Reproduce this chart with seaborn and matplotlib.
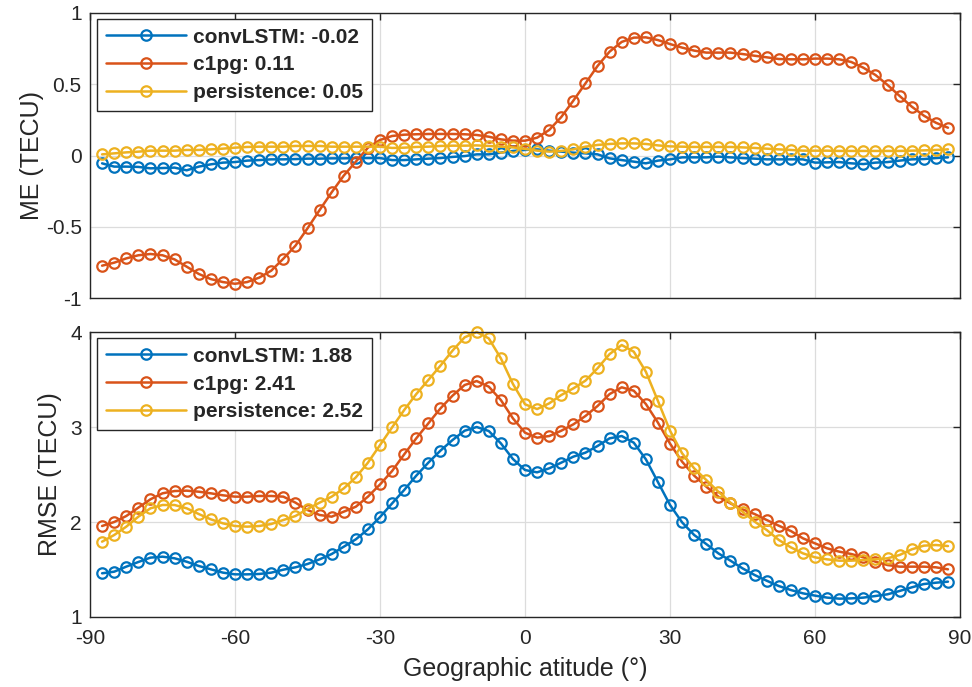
import numpy as np
import pandas as pd
import matplotlib
matplotlib.use("Agg")
import matplotlib.pyplot as plt
import seaborn as sns

# Latitude bins (deg), 2.5 deg spacing
latitude = np.arange(-87.5, 87.6, 2.5)

# Mean error (TECU) per latitude bin
me_convlstm = [-0.055, -0.078, -0.078, -0.080, -0.090, -0.088, -0.085, -0.104, -0.078, -0.062,
               -0.050, -0.046, -0.036, -0.032, -0.027, -0.027, -0.025, -0.022, -0.022, -0.020,
               -0.020, -0.018, -0.018, -0.018, -0.032, -0.032, -0.027, -0.022, -0.018, -0.010,
               -0.004, 0.008, 0.008, 0.020, 0.032, 0.039, 0.043, 0.034, 0.027, 0.020,
               0.015, 0.008, -0.020, -0.032, -0.043, -0.055, -0.036, -0.027, -0.013, -0.013,
               -0.013, -0.008, -0.013, -0.018, -0.022, -0.027, -0.027, -0.027, -0.027, -0.050,
               -0.048, -0.046, -0.055, -0.060, -0.050, -0.046, -0.036, -0.027, -0.025, -0.018,
               -0.013]
me_c1pg = [-0.773, -0.752, -0.722, -0.700, -0.691, -0.700, -0.729, -0.780, -0.831, -0.867,
           -0.888, -0.900, -0.888, -0.857, -0.808, -0.724, -0.633, -0.511, -0.383, -0.258,
           -0.141, -0.043, 0.055, 0.109, 0.137, 0.146, 0.149, 0.151, 0.151, 0.151,
           0.149, 0.144, 0.132, 0.113, 0.104, 0.104, 0.125, 0.179, 0.270, 0.385,
           0.506, 0.628, 0.729, 0.797, 0.827, 0.829, 0.810, 0.782, 0.757, 0.736,
           0.722, 0.722, 0.722, 0.712, 0.700, 0.689, 0.677, 0.675, 0.675, 0.680,
           0.680, 0.675, 0.656, 0.616, 0.565, 0.495, 0.418, 0.343, 0.280, 0.230,
           0.195]
me_persistence = [0.008, 0.015, 0.022, 0.027, 0.034, 0.034, 0.034, 0.039, 0.039, 0.043,
                  0.048, 0.055, 0.060, 0.062, 0.062, 0.062, 0.067, 0.067, 0.067, 0.062,
                  0.062, 0.062, 0.062, 0.062, 0.053, 0.055, 0.060, 0.062, 0.067, 0.069,
                  0.069, 0.071, 0.067, 0.062, 0.057, 0.046, 0.034, 0.027, 0.032, 0.043,
                  0.062, 0.074, 0.081, 0.085, 0.085, 0.081, 0.071, 0.064, 0.062, 0.060,
                  0.060, 0.060, 0.060, 0.057, 0.053, 0.048, 0.043, 0.039, 0.034, 0.034,
                  0.034, 0.032, 0.032, 0.032, 0.032, 0.032, 0.032, 0.034, 0.036, 0.039,
                  0.043]

# Root-mean-square error (TECU) per latitude bin
rmse_convlstm = [1.460, 1.477, 1.530, 1.579, 1.625, 1.635, 1.618, 1.582, 1.537, 1.502,
                 1.467, 1.449, 1.449, 1.453, 1.467, 1.498, 1.523, 1.558, 1.607, 1.663,
                 1.740, 1.818, 1.923, 2.052, 2.196, 2.337, 2.488, 2.625, 2.751, 2.863,
                 2.961, 3.000, 2.958, 2.828, 2.663, 2.547, 2.523, 2.565, 2.625, 2.688,
                 2.730, 2.800, 2.881, 2.905, 2.835, 2.660, 2.420, 2.179, 1.996, 1.863,
                 1.768, 1.670, 1.593, 1.512, 1.442, 1.382, 1.326, 1.284, 1.249, 1.225,
                 1.204, 1.193, 1.196, 1.204, 1.221, 1.239, 1.274, 1.312, 1.347, 1.361,
                 1.372]
rmse_c1pg = [1.958, 2.000, 2.063, 2.151, 2.239, 2.302, 2.326, 2.330, 2.319, 2.302,
             2.281, 2.267, 2.267, 2.274, 2.274, 2.267, 2.204, 2.126, 2.074, 2.056,
             2.109, 2.161, 2.267, 2.395, 2.537, 2.712, 2.881, 3.039, 3.196, 3.330,
             3.442, 3.484, 3.425, 3.284, 3.091, 2.940, 2.888, 2.905, 2.961, 3.028,
             3.116, 3.221, 3.347, 3.418, 3.382, 3.242, 3.046, 2.825, 2.635, 2.488,
             2.372, 2.267, 2.196, 2.133, 2.084, 2.021, 1.961, 1.905, 1.828, 1.775,
             1.723, 1.688, 1.663, 1.628, 1.582, 1.547, 1.530, 1.530, 1.530, 1.523,
             1.502]
rmse_persistence = [1.793, 1.863, 1.951, 2.056, 2.144, 2.179, 2.179, 2.144, 2.084, 2.028,
                    1.986, 1.958, 1.951, 1.958, 1.979, 2.021, 2.063, 2.137, 2.204, 2.267,
                    2.354, 2.470, 2.625, 2.810, 2.996, 3.179, 3.347, 3.495, 3.646, 3.804,
                    3.944, 4.000, 3.933, 3.723, 3.453, 3.239, 3.189, 3.249, 3.337, 3.407,
                    3.488, 3.618, 3.768, 3.863, 3.793, 3.582, 3.274, 2.961, 2.723, 2.565,
                    2.442, 2.319, 2.204, 2.109, 2.004, 1.916, 1.811, 1.733, 1.670, 1.628,
                    1.607, 1.593, 1.593, 1.600, 1.607, 1.618, 1.653, 1.712, 1.751, 1.758,
                    1.747]

models = ["convLSTM", "c1pg", "persistence"]
me_means = ["-0.02", "0.11", "0.05"]
rmse_means = ["1.88", "2.41", "2.52"]
colors = ["#0072BD", "#D95319", "#EDB120"]

x_ticks = [-90, -60, -30, 0, 30, 60, 90]
me_ticks = [-1, -0.5, 0, 0.5, 1]
me_ticklabels = ["-1", "-0.5", "0", "0.5", "1"]
rmse_ticks = [1, 2, 3, 4]

sns.set_style("white")
plt.rcParams["font.family"] = ["Liberation Sans", "DejaVu Sans"]
plt.rcParams["axes.unicode_minus"] = False

fig = plt.figure(figsize=(9.72, 6.87), dpi=100)
ax_me = fig.add_axes([0.0926, 0.5662, 0.8951, 0.4149])
ax_rmse = fig.add_axes([0.0926, 0.1019, 0.8951, 0.4148])


def draw_panel(ax, series, means):
    for name, vals, mean, col in zip(models, series, means, colors):
        df = pd.DataFrame({"lat": latitude, "val": vals})
        sns.lineplot(data=df, x="lat", y="val", ax=ax, color=col,
                     linewidth=1.8, marker="o", markersize=7.5,
                     markerfacecolor="none", markeredgecolor=col,
                     markeredgewidth=1.6, clip_on=False,
                     label=f"{name}: {mean}")
    ax.set_xlim(-90, 90)
    ax.set_xticks(x_ticks)
    ax.grid(True, color="#dcdcdc", linewidth=0.9)
    ax.set_axisbelow(True)
    ax.tick_params(direction="in", top=True, right=True, length=5,
                   width=1.0, color="#262626", labelsize=15,
                   labelcolor="#262626", pad=6)
    ax.tick_params(axis="x", pad=9)
    for sp in ax.spines.values():
        sp.set_color("#262626")
        sp.set_linewidth(1.0)
    leg = ax.legend(loc="upper left", bbox_to_anchor=(0.008, 0.979),
                    frameon=True, fancybox=False, framealpha=1,
                    edgecolor="#262626", handlelength=3.85,
                    borderpad=0.42, labelspacing=0.42, handletextpad=0.34,
                    borderaxespad=0.0,
                    prop={"weight": "bold", "size": 15})
    leg.get_frame().set_linewidth(1.0)


draw_panel(ax_me, [me_convlstm, me_c1pg, me_persistence], me_means)
draw_panel(ax_rmse, [rmse_convlstm, rmse_c1pg, rmse_persistence], rmse_means)

ax_me.set_ylim(-1, 1)
ax_me.set_yticks(me_ticks)
ax_me.set_yticklabels(me_ticklabels)
ax_me.set_xticklabels([])
ax_me.set_xlabel("")
ax_me.set_ylabel("ME (TECU)", fontsize=18, color="#262626", labelpad=1.5)

ax_rmse.set_ylim(1, 4)
ax_rmse.set_yticks(rmse_ticks)
ax_rmse.set_xticklabels([str(t) for t in x_ticks])
ax_rmse.set_xlabel("Geographic atitude (\u00b0)", fontsize=18, color="#262626", labelpad=6)
ax_rmse.set_ylabel("RMSE (TECU)", fontsize=18, color="#262626", labelpad=6)

fig.savefig("out.png", dpi=100)
